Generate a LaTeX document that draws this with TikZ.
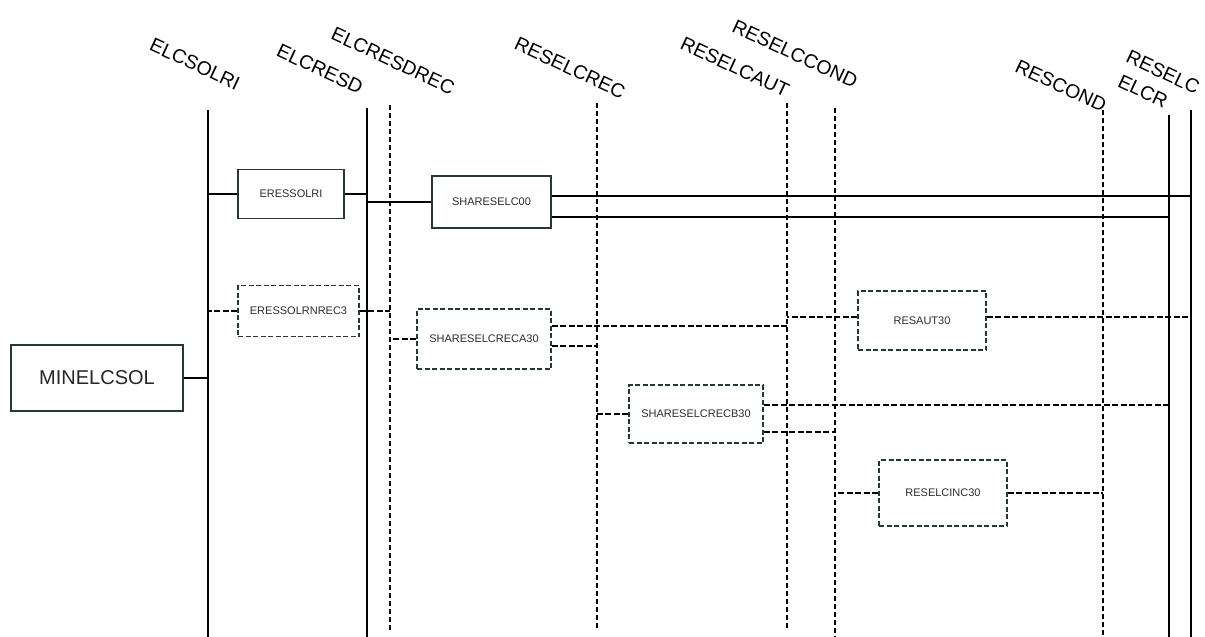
\documentclass[tikz,border=0pt]{standalone}
\usepackage{fontspec}
\setmainfont{Liberation Sans}
\usetikzlibrary{calc}
\definecolor{boxedge}{RGB}{36,56,60}
\definecolor{boxtext}{RGB}{45,45,45}
\begin{document}
\begin{tikzpicture}[x=1pt,y=-1pt,
  lane/.style={line width=1.3pt, black},
  lanedash/.style={lane, dash pattern=on 5pt off 3pt},
  link/.style={line width=1.3pt, black},
  linkdash/.style={link, dash pattern=on 6pt off 2.5pt},
  lanelabel/.style={font=\fontsize{19.5}{20}\selectfont, rotate=-25, inner sep=0pt},
  block/.style={draw=boxedge, line width=1.5pt, fill=white, text=boxtext,
    font=\fontsize{11}{12}\selectfont, inner sep=0pt},
  blockdash/.style={block, dash pattern=on 5pt off 2.5pt}
]
\useasboundingbox[fill=white] (0,0) rectangle (1205,637);

% lifelines: top and bottom ends
\coordinate (elcsolri)   at (208,110);  \coordinate (elcsolriB)   at (208,637);
\coordinate (elcresd)    at (367,108);  \coordinate (elcresdB)    at (367,637);
\coordinate (elcresdrec) at (390,105);  \coordinate (elcresdrecB) at (390,630);
\coordinate (reselcrec)  at (597,103);  \coordinate (reselcrecB)  at (597,630);
\coordinate (reselcaut)  at (787,103);  \coordinate (reselcautB)  at (787,630);
\coordinate (reselccond) at (835,108);  \coordinate (reselccondB) at (835,637);
\coordinate (rescond)    at (1103,110); \coordinate (rescondB)    at (1103,637);
\coordinate (elcr)       at (1169,115); \coordinate (elcrB)       at (1169,637);
\coordinate (reselc)     at (1191,110); \coordinate (reselcB)     at (1191,637);

\draw[lane]     (elcsolri) -- (elcsolriB);
\draw[lane]     (elcresd) -- (elcresdB);
\draw[lanedash] (elcresdrec) -- (elcresdrecB);
\draw[lanedash] (reselcrec) -- (reselcrecB);
\draw[lanedash] (reselcaut) -- (reselcautB);
\draw[lanedash] (reselccond) -- (reselccondB);
\draw[lanedash] (rescond) -- (rescondB);
\draw[lane]     (elcr) -- (elcrB);
\draw[lane]     (reselc) -- (reselcB);

% lifeline titles
\node[lanelabel] (tElcsolri)   at (195,64)  {ELCSOLRI};
\node[lanelabel] (tElcresd)    at (320,69)  {ELCRESD};
\node[lanelabel] (tElcresdrec) at (393,61)  {ELCRESDREC};
\node[lanelabel] (tReselcrec)  at (570,68)  {RESELCREC};
\node[lanelabel] (tReselcaut)  at (735,67)  {RESELCAUT};
\node[lanelabel] (tReselccond) at (795,54)  {RESELCCOND};
\node[lanelabel] (tRescond)    at (1061,86) {RESCOND};
\node[lanelabel] (tReselc)     at (1163,72) {RESELC};
\node[lanelabel] (tElcr)       at (1143,91) {ELCR};

% blocks
\node[block, minimum width=172pt, minimum height=66pt,
  font=\fontsize{20}{22}\selectfont, text=black!85] (minelcsol) at (97,378) {MINELCSOL};
\node[block, minimum width=106pt, minimum height=49pt] (eressolri) at (291,194) {ERESSOLRI};
\node[block, minimum width=119pt, minimum height=52pt] (shareselc) at (491.5,202) {SHARESELC00};
\node[blockdash, minimum width=121pt, minimum height=51pt] (eressolrnrec) at (298.5,311) {ERESSOLRNREC3};
\node[blockdash, minimum width=134pt, minimum height=60pt] (shareselcreca) at (484,339) {SHARESELCRECA30};
\node[blockdash, minimum width=128pt, minimum height=59pt] (resaut) at (922,320.5) {RESAUT30};
\node[blockdash, minimum width=134pt, minimum height=58pt] (shareselcrecb) at (696,414) {SHARESELCRECB30};
\node[blockdash, minimum width=128pt, minimum height=66pt] (reselcinc) at (943,493) {RESELCINC30};

% ports with an offset from the block centre line
\coordinate (s00up) at ([yshift=6pt]shareselc.east);
\coordinate (s00dn) at ([yshift=-15pt]shareselc.east);
\coordinate (saup)  at ([yshift=13pt]shareselcreca.east);
\coordinate (sadn)  at ([yshift=-7pt]shareselcreca.east);
\coordinate (raw)   at ([yshift=3.5pt]resaut.west);
\coordinate (rae)   at ([yshift=3.5pt]resaut.east);
\coordinate (sbup)  at ([yshift=9pt]shareselcrecb.east);
\coordinate (sbdn)  at ([yshift=-18pt]shareselcrecb.east);

% solid links
\draw[link] (minelcsol.east) -- (minelcsol.east -| elcsolri);
\draw[link] (eressolri.west) -- (eressolri.west -| elcsolri);
\draw[link] (eressolri.east) -- (eressolri.east -| elcresd);
\draw[link] (shareselc.west) -- (shareselc.west -| elcresd);
\draw[link] (s00up) -- (s00up -| reselc);
\draw[link] (s00dn) -- (s00dn -| elcr);

% dashed links
\draw[linkdash] (eressolrnrec.west) -- (eressolrnrec.west -| elcsolri);
\draw[linkdash] (eressolrnrec.east) -- (eressolrnrec.east -| elcresdrec);
\draw[linkdash] (shareselcreca.west) -- (shareselcreca.west -| elcresdrec);
\draw[linkdash] (saup) -- (saup -| reselcaut);
\draw[linkdash] (sadn) -- (sadn -| reselcrec);
\draw[linkdash] (raw) -- (raw -| reselcaut);
\draw[linkdash] (rae) -- (rae -| reselc);
\draw[linkdash] (shareselcrecb.west) -- (shareselcrecb.west -| reselcrec);
\draw[linkdash] (sbup) -- (sbup -| elcr);
\draw[linkdash] (sbdn) -- (sbdn -| reselccond);
\draw[linkdash] (reselcinc.west) -- (reselcinc.west -| reselccond);
\draw[linkdash] (reselcinc.east) -- (reselcinc.east -| rescond);
\end{tikzpicture}
\end{document}
